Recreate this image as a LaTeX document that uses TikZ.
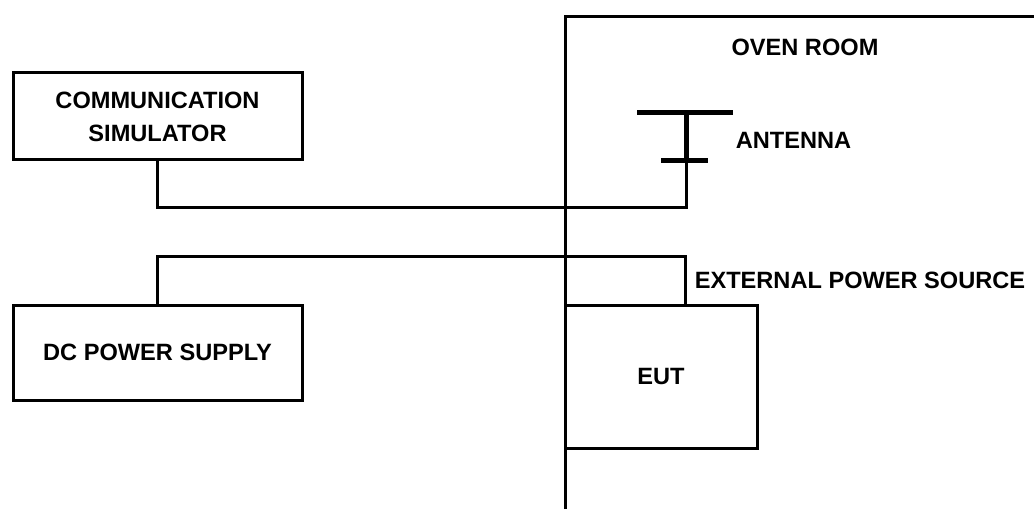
\documentclass[tikz,border=0pt]{standalone}
\usepackage{fontspec}
\setmainfont{Liberation Sans}
\begin{document}
\begin{tikzpicture}[x=1pt,y=-1pt,
  lbl/.style={font=\fontsize{23.6}{33}\selectfont\bfseries, inner sep=0pt, align=center},
  boxnode/.style={draw, line width=3pt, rectangle, inner sep=0pt, lbl},
  wire/.style={line width=3pt},
  bar/.style={line width=5pt}]
\useasboundingbox (0,0) rectangle (1034,513);
% walls
\coordinate (wb) at (565,509);
\coordinate (wc) at (565,17);
\coordinate (we) at (1034,17);
\draw[wire] (wb) -- (wc) -- (we);
% boxes
\node[boxnode, minimum width=289pt, minimum height=87pt] (comm) at (157.5,116.5) {COMMUNICATION\\SIMULATOR};
\node[boxnode, minimum width=289pt, minimum height=95pt] (dc) at (157.5,352.5) {DC POWER SUPPLY};
\node[boxnode, minimum width=192pt, minimum height=143pt] (eut) at (661,376.5) {EUT};
% antenna
\coordinate (atl) at (637,113);
\coordinate (atr) at (733,113);
\coordinate (abl) at (661,161);
\coordinate (abr) at (708,161);
\coordinate (atop) at (686,113);
\coordinate (abot) at (686,161);
\draw[bar] (atl) -- (atr);
\draw[bar] (abl) -- (abr);
\draw[bar] (atop) -- (abot);
% wires
\draw[wire] (comm.south) |- (686,208) -- (abot);
\draw[wire] (dc.north) |- (685,257) -- (685,305);
% labels
\node[lbl] (oven) at (805,47) {OVEN ROOM};
\node[lbl] (ant) at (793.5,140) {ANTENNA};
\node[lbl] (ext) at (860,280) {EXTERNAL POWER SOURCE};
\end{tikzpicture}
\end{document}
